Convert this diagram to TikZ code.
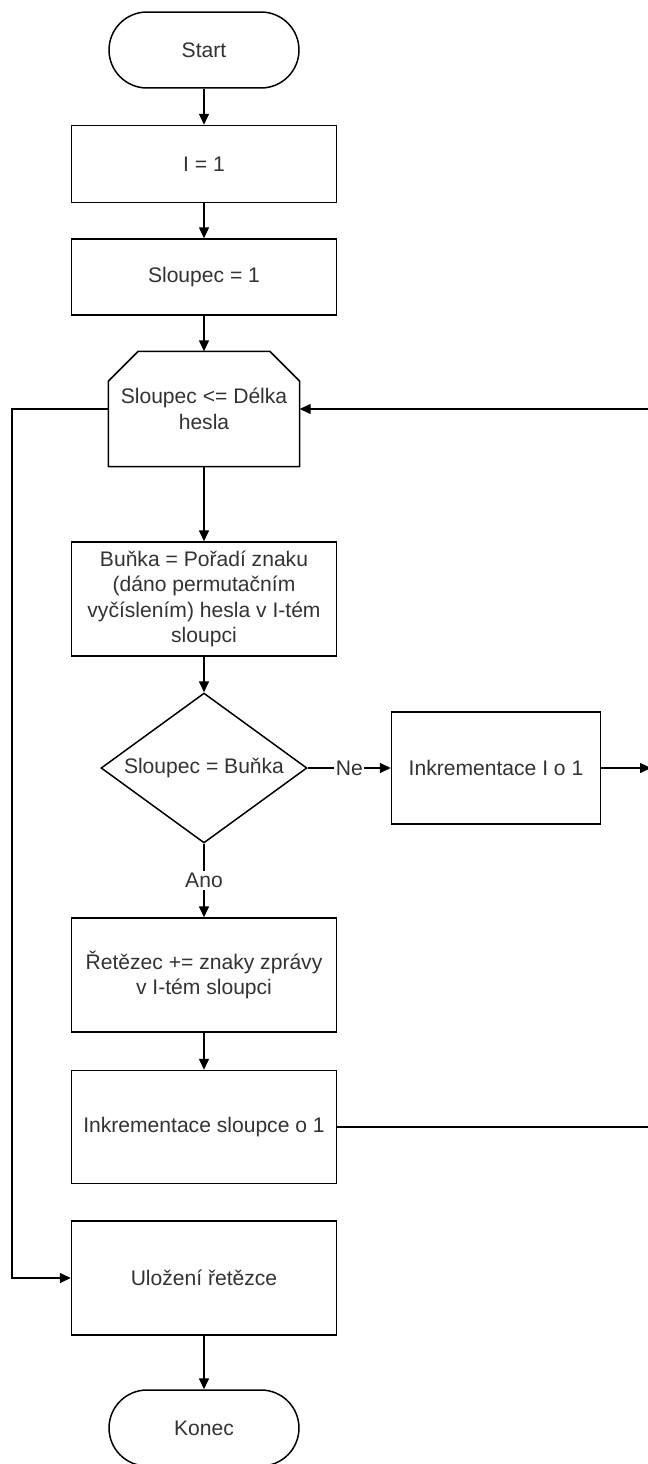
\documentclass[tikz,border=0pt]{standalone}
\usepackage{fontspec}
\setmainfont{Liberation Sans}
\usetikzlibrary{shapes.geometric, arrows.meta, positioning}

\begin{document}
\begin{tikzpicture}[x=0.02cm, y=-0.02cm, line width=0.85pt,
		every node/.style={font=\fontsize{12}{14.5}\selectfont, text=black!80},
		term/.style={draw, rectangle, rounded corners=0.76cm, minimum width=3.8cm, minimum height=1.52cm, inner sep=0pt},
		box/.style={draw, rectangle, minimum width=5.3cm, minimum height=2.28cm, align=center, inner sep=0pt},
		decision/.style={draw, diamond, aspect=1.37, minimum width=4.12cm, minimum height=3cm, inner sep=0pt},
		flow/.style={-{Triangle[length=0.22cm,width=0.2cm]}},
		tag/.style={fill=white, inner sep=1pt}]
			\fill[white] (0,0) rectangle (648,1464);
			\useasboundingbox (0,0) rectangle (648,1464);
			
			% hlavni sloupec
			\node[term] (start) at (204,50) {Start};
			\node[box, minimum height=1.54cm] (i1) at (204,164) {I = 1};
			\node[box, minimum height=1.52cm] (col1) at (204,277) {Sloupec = 1};
			\node[rectangle, minimum width=3.8cm, minimum height=2.28cm, align=center, inner sep=0pt] (loop) at (204,409) {Sloupec <= Délka\\hesla};
			\draw (loop.south west) -- ([yshift=-0.6cm]loop.north west) -- ([xshift=0.6cm]loop.north west)
				-- ([xshift=-0.6cm]loop.north east) -- ([yshift=-0.6cm]loop.north east) -- (loop.south east) -- cycle;
			\node[box] (cell) at (204,599) {Buňka = Pořadí znaku\\(dáno permutačním\\vyčíslením) hesla v I-tém\\sloupci};
			\node[decision] (test) at (204,768) {Sloupec = Buňka};
			\node[box, minimum width=4.18cm, minimum height=2.24cm] (inc) at (496,768) {Inkrementace I o 1};
			\node[box] (str) at (204,975) {Řetězec += znaky zprávy\\v I-tém sloupci};
			\node[box, minimum height=2.26cm] (inccol) at (204,1127) {Inkrementace sloupce o 1};
			\node[box] (save) at (204,1278) {Uložení řetězce};
			\node[term] (stop) at (204,1428) {Konec};
			
			% volne konce na okraji
			\coordinate (left) at (12,409);
			\coordinate (rin) at (648,409);
			\coordinate (rinc) at (651,768);
			\coordinate (rcol) at (648,1127);
			
			% spojnice
			\draw[flow] (start) -- (i1);
			\draw[flow] (i1) -- (col1);
			\draw[flow] (col1) -- (loop);
			\draw[flow] (loop) -- (cell);
			\draw[flow] (cell) -- (test);
			\draw[flow] (test.east) -- node[tag] {Ne} (inc.west);
			\draw[flow] (test.south) -- node[tag] {Ano} (str.north);
			\draw[flow] (str) -- (inccol);
			\draw[flow] (save) -- (stop);
			\draw[flow] (loop.west) -- (left) |- (save.west);
			\draw[flow] (rin) -- (loop.east);
			\draw[flow] (inc.east) -- (rinc);
			\draw (inccol.east) -- (rcol);
		\end{tikzpicture}
\end{document}
